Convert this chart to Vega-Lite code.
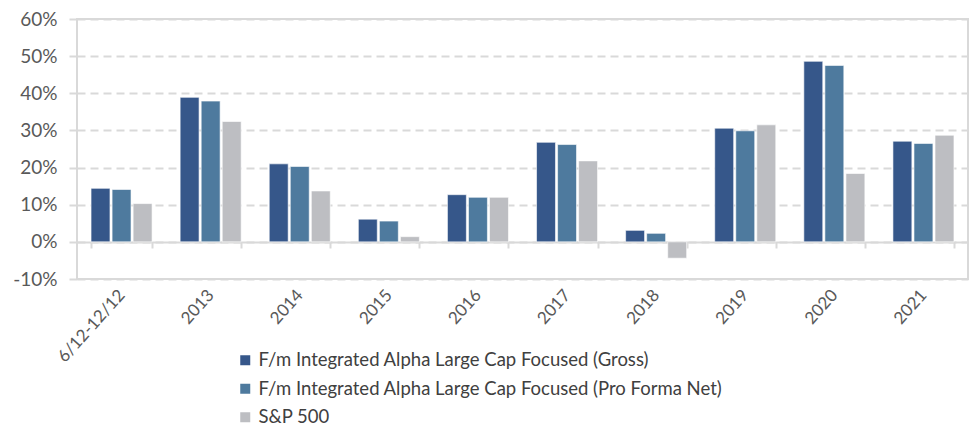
{
  "$schema": "https://vega.github.io/schema/vega-lite/v6.json",
  "width": 891,
  "height": 260,
  "autosize": {"type": "none"},
  "padding": {"left": 77, "top": 19, "right": 7, "bottom": 150},
  "background": "white",
  "config": {
    "font": "Lato",
    "view": {"stroke": "#D9D9D9", "strokeWidth": 2}
  },
  "data": {
    "values": [
      {"period": "6/12-12/12", "series": "F/m Integrated Alpha Large Cap Focused (Gross)", "value": 14.4},
      {"period": "6/12-12/12", "series": "F/m Integrated Alpha Large Cap Focused (Pro Forma Net)", "value": 14.1},
      {"period": "6/12-12/12", "series": "S&P 500", "value": 10.3},
      {"period": "2013", "series": "F/m Integrated Alpha Large Cap Focused (Gross)", "value": 38.9},
      {"period": "2013", "series": "F/m Integrated Alpha Large Cap Focused (Pro Forma Net)", "value": 37.9},
      {"period": "2013", "series": "S&P 500", "value": 32.4},
      {"period": "2014", "series": "F/m Integrated Alpha Large Cap Focused (Gross)", "value": 21.0},
      {"period": "2014", "series": "F/m Integrated Alpha Large Cap Focused (Pro Forma Net)", "value": 20.3},
      {"period": "2014", "series": "S&P 500", "value": 13.7},
      {"period": "2015", "series": "F/m Integrated Alpha Large Cap Focused (Gross)", "value": 6.1},
      {"period": "2015", "series": "F/m Integrated Alpha Large Cap Focused (Pro Forma Net)", "value": 5.6},
      {"period": "2015", "series": "S&P 500", "value": 1.4},
      {"period": "2016", "series": "F/m Integrated Alpha Large Cap Focused (Gross)", "value": 12.7},
      {"period": "2016", "series": "F/m Integrated Alpha Large Cap Focused (Pro Forma Net)", "value": 12.0},
      {"period": "2016", "series": "S&P 500", "value": 12.0},
      {"period": "2017", "series": "F/m Integrated Alpha Large Cap Focused (Gross)", "value": 26.8},
      {"period": "2017", "series": "F/m Integrated Alpha Large Cap Focused (Pro Forma Net)", "value": 26.2},
      {"period": "2017", "series": "S&P 500", "value": 21.8},
      {"period": "2018", "series": "F/m Integrated Alpha Large Cap Focused (Gross)", "value": 3.1},
      {"period": "2018", "series": "F/m Integrated Alpha Large Cap Focused (Pro Forma Net)", "value": 2.3},
      {"period": "2018", "series": "S&P 500", "value": -4.4},
      {"period": "2019", "series": "F/m Integrated Alpha Large Cap Focused (Gross)", "value": 30.6},
      {"period": "2019", "series": "F/m Integrated Alpha Large Cap Focused (Pro Forma Net)", "value": 29.9},
      {"period": "2019", "series": "S&P 500", "value": 31.5},
      {"period": "2020", "series": "F/m Integrated Alpha Large Cap Focused (Gross)", "value": 48.6},
      {"period": "2020", "series": "F/m Integrated Alpha Large Cap Focused (Pro Forma Net)", "value": 47.5},
      {"period": "2020", "series": "S&P 500", "value": 18.4},
      {"period": "2021", "series": "F/m Integrated Alpha Large Cap Focused (Gross)", "value": 27.1},
      {"period": "2021", "series": "F/m Integrated Alpha Large Cap Focused (Pro Forma Net)", "value": 26.5},
      {"period": "2021", "series": "S&P 500", "value": 28.7}
    ]
  },
  "mark": {"type": "bar", "stroke": "white", "strokeWidth": 0.6},
  "encoding": {
    "x": {
      "field": "period",
      "type": "nominal",
      "sort": null,
      "scale": {"paddingInner": 0.315, "paddingOuter": 0.1575},
      "axis": {
        "title": null,
        "orient": "bottom",
        "offset": -37,
        "domainColor": "#D9D9D9",
        "domainWidth": 2,
        "ticks": true,
        "tickBand": "extent",
        "tickColor": "#D9D9D9",
        "tickWidth": 2,
        "tickSize": 6,
        "labelAngle": -48,
        "labelAlign": "right",
        "labelBaseline": "middle",
        "labelPadding": 44,
        "labelFontSize": 17,
        "labelColor": "#595959",
        "labelFont": "Lato"
      }
    },
    "xOffset": {
      "field": "series",
      "type": "nominal",
      "scale": {"paddingInner": 0.1, "paddingOuter": 0}
    },
    "y": {
      "field": "value",
      "type": "quantitative",
      "scale": {"domain": [-10, 60], "nice": false},
      "axis": {
        "title": null,
        "values": [-10, 0, 10, 20, 30, 40, 50, 60],
        "labelExpr": "datum.value + '%'",
        "domain": false,
        "ticks": true,
        "tickSize": 8,
        "tickColor": "#D9D9D9",
        "tickWidth": 2,
        "grid": true,
        "gridColor": "#D9D9D9",
        "gridWidth": 2,
        "gridDash": [8, 5],
        "labelPadding": 12,
        "labelFontSize": 19,
        "labelColor": "#595959",
        "labelFont": "Lato"
      }
    },
    "color": {
      "field": "series",
      "type": "nominal",
      "scale": {
        "domain": [
          "F/m Integrated Alpha Large Cap Focused (Gross)",
          "F/m Integrated Alpha Large Cap Focused (Pro Forma Net)",
          "S&P 500"
        ],
        "range": ["#36578A", "#4E7A9E", "#BDBEC2"]
      },
      "legend": {
        "title": null,
        "orient": "none",
        "legendX": 159,
        "legendY": 332,
        "direction": "vertical",
        "symbolType": "square",
        "symbolSize": 100,
        "symbolStrokeWidth": 0,
        "labelFontSize": 18.5,
        "labelColor": "#404040",
        "labelFont": "Lato",
        "labelLimit": 700,
        "rowPadding": 9.5,
        "labelOffset": 4
      }
    }
  }
}
